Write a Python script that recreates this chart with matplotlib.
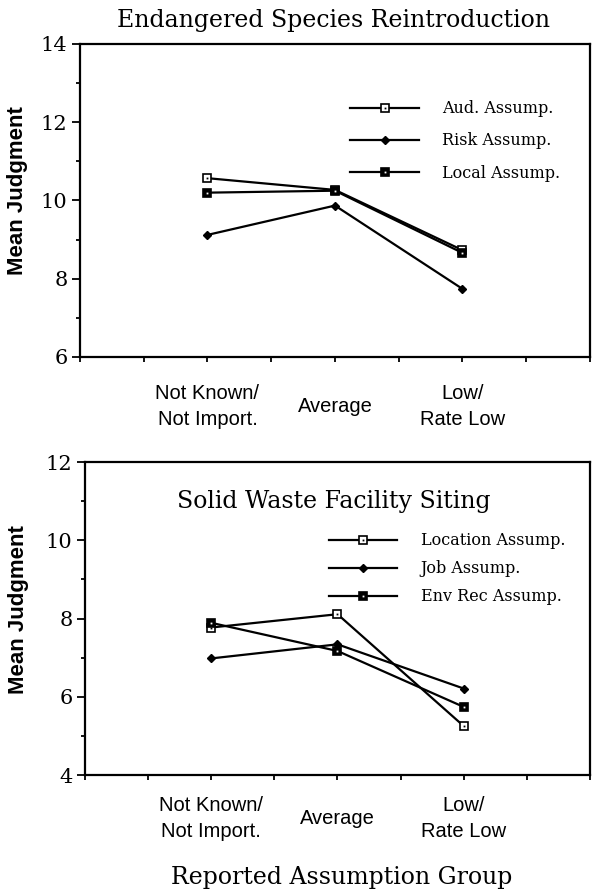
import numpy as np
import matplotlib.pyplot as plt
from matplotlib.legend_handler import HandlerTuple
from matplotlib.ticker import MultipleLocator

# data
groups = ['Not Known/\nNot Import.', 'Average', 'Low/\nRate Low']
group_x = [1, 2, 3]

top_names = ['Aud. Assump.', 'Risk Assump.', 'Local Assump.']
aud = [10.57, 10.27, 8.73]
risk = [9.12, 9.87, 7.74]
local = [10.20, 10.25, 8.66]

bot_names = ['Location Assump.', 'Job Assump.', 'Env Rec Assump.']
location = [7.77, 8.11, 5.25]
job = [6.98, 7.34, 6.21]
envrec = [7.89, 7.17, 5.74]

SERIF = 'DejaVu Serif'
SANS = 'Liberation Sans'

fig = plt.figure(figsize=(5.92, 8.94), dpi=100)
ax1 = fig.add_axes([0.1351, 0.6007, 0.8615, 0.3501])
ax2 = fig.add_axes([0.1436, 0.1331, 0.8530, 0.3501])

# marker styles: open square w/ dot, diamond, filled square w/ white dot
styles = [
    dict(marker='s', mfc='white', mec='black', ms=5.5, mew=1.2, dot='black'),
    dict(marker='D', mfc='black', mec='black', ms=4.5, mew=1, dot=None),
    dict(marker='s', mfc='black', mec='black', ms=5.5, mew=1.2, dot='white'),
]


def draw_series(ax, series):
    handles = []
    for vals, st in zip(series, styles):
        ln, = ax.plot(group_x, vals, color='black', lw=1.6, marker=st['marker'],
                      mfc=st['mfc'], mec=st['mec'], ms=st['ms'], mew=st['mew'])
        if st['dot'] is not None:
            dt, = ax.plot(group_x, vals, ls='none', marker='s', ms=1.3,
                          mfc=st['dot'], mec=st['dot'], mew=0)
            handles.append((ln, dt))
        else:
            handles.append(ln)
    return handles


def style_axes(ax, ylim, label_pad):
    ax.set_xlim(0, 4)
    ax.set_ylim(*ylim)
    ax.yaxis.set_major_locator(MultipleLocator(2))
    ax.yaxis.set_minor_locator(MultipleLocator(1))
    ax.set_xticks(group_x)
    ax.set_xticklabels(groups, fontsize=14.5, family=SANS, va='center',
                       multialignment='center', linespacing=1.45)
    ax.xaxis.set_minor_locator(MultipleLocator(0.5))
    ax.tick_params(axis='x', which='both', direction='out', length=3.5,
                   width=1.3, pad=label_pad)
    ax.tick_params(axis='y', which='major', direction='out', length=6,
                   width=1.3, labelsize=15, pad=3)
    ax.tick_params(axis='y', which='minor', direction='out', length=3, width=1.3)
    for lab in ax.get_yticklabels():
        lab.set_family(SERIF)
    for sp in ax.spines.values():
        sp.set_linewidth(1.6)


def add_legend(ax, handles, names, anchor, spacing):
    ax.legend(handles, names, loc='upper left', bbox_to_anchor=anchor,
              bbox_transform=ax.transData, frameon=False, handlelength=4.3,
              handletextpad=1.45, labelspacing=spacing, borderpad=0,
              borderaxespad=0, prop={'family': SERIF, 'size': 11.5},
              handler_map={tuple: HandlerTuple(ndivide=1, pad=0)})


h1 = draw_series(ax1, [aud, risk, local])
style_axes(ax1, (6, 14), 32)
add_legend(ax1, h1, top_names, (2.12, 12.56), 0.95)

h2 = draw_series(ax2, [location, job, envrec])
style_axes(ax2, (4, 12), 28)
add_legend(ax2, h2, bot_names, (1.93, 10.2), 0.68)

fig.text(0.563, 0.977, 'Endangered Species Reintroduction', ha='center',
         va='center', family=SERIF, fontsize=17)
fig.text(0.564, 0.4385, 'Solid Waste Facility Siting', ha='center',
         va='center', family=SERIF, fontsize=17)
fig.text(0.578, 0.019, 'Reported Assumption Group', ha='center',
         va='center', family=SERIF, fontsize=17)
fig.text(0.029, 0.7864, 'Mean Judgment', rotation=90, ha='center',
         va='center', family=SANS, fontweight='bold', fontsize=16)
fig.text(0.032, 0.3177, 'Mean Judgment', rotation=90, ha='center',
         va='center', family=SANS, fontweight='bold', fontsize=16)

fig.savefig('out.png', dpi=100)
